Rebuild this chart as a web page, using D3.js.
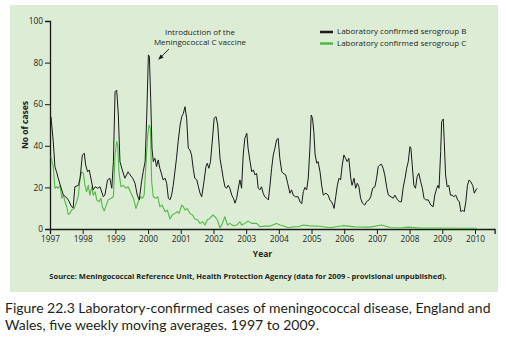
<!DOCTYPE html>
<html>
<head>
<meta charset="utf-8">
<script src="https://cdn.jsdelivr.net/npm/d3@7"></script>
<style>
  html, body { margin: 0; padding: 0; background: #ffffff; }
  svg { display: block; }
  text { font-family: "Open Sans", "Noto Sans", sans-serif; fill: #231f20; }
</style>
</head>
<body>
<svg id="chart" width="506" height="343"></svg>
<script>
// ---- Data ----
const yearTicks = [1997, 1998, 1999, 2000, 2001, 2002, 2003, 2004, 2005, 2006, 2007, 2008, 2009, 2010];
const caseTicks = [0, 20, 40, 60, 80, 100];
const seriesNames = ["Laboratory confirmed serogroup B", "Laboratory confirmed serogroup C"];

// [year, cases] – five weekly moving averages
const serogroupB = [
  [1997.03,54],[1997.10,42],[1997.15,30],[1997.20,27.5],[1997.25,24.5],[1997.34,19.7],[1997.41,16.3],[1997.48,15.5],
  [1997.56,14],[1997.66,10.7],[1997.71,10.2],[1997.76,20.3],[1997.87,21],[1997.92,24.4],[1997.99,35.6],[1998.05,36.4],
  [1998.09,30.8],[1998.15,27.5],[1998.20,28.4],[1998.25,24.4],[1998.32,18.8],[1998.38,20.3],[1998.46,19.6],[1998.53,20.3],
  [1998.63,15.5],[1998.68,16.3],[1998.76,23.6],[1998.83,24.4],[1998.89,19.6],[1998.94,32.4],[1998.99,66],[1999.04,66.8],
  [1999.09,54.8],[1999.14,32.4],[1999.21,28.4],[1999.29,24.4],[1999.39,27.5],[1999.45,26],[1999.53,24.4],[1999.60,22],
  [1999.67,16.3],[1999.73,14],[1999.80,22.7],[1999.85,27.5],[1999.91,32.4],[1999.96,54.8],[2000.01,83.7],[2000.04,82.8],
  [2000.08,62.8],[2000.12,38.8],[2000.16,32.4],[2000.21,34],[2000.26,30],[2000.31,33.2],[2000.36,29.2],[2000.42,26],
  [2000.46,23.6],[2000.52,24.4],[2000.57,22],[2000.62,14.8],[2000.67,14],[2000.72,16.3],[2000.77,21],[2000.82,27.5],
  [2000.87,34],[2000.92,42],[2000.98,50],[2001.03,54],[2001.08,55.6],[2001.13,58.8],[2001.18,53.2],[2001.23,38.8],
  [2001.28,38],[2001.33,35.6],[2001.38,29.2],[2001.43,24.4],[2001.49,23.6],[2001.54,20.3],[2001.59,17.2],[2001.64,15.5],
  [2001.71,22.7],[2001.77,30],[2001.81,31.6],[2001.86,29.2],[2001.91,32.4],[2001.98,45.2],[2002.02,53.2],[2002.08,54],
  [2002.13,50],[2002.18,38.8],[2002.20,34],[2002.25,29.2],[2002.30,24.4],[2002.35,20.3],[2002.40,19.6],[2002.45,21],
  [2002.50,19.6],[2002.56,16.3],[2002.61,14.8],[2002.66,12.4],[2002.71,14.8],[2002.76,19.6],[2002.81,23.6],[2002.86,19.6],
  [2002.91,35.6],[2002.96,43.6],[2003.02,46],[2003.06,38.8],[2003.12,32.4],[2003.17,27.5],[2003.22,28.4],[2003.27,26],
  [2003.32,26.8],[2003.37,19.6],[2003.42,18.8],[2003.47,20.3],[2003.52,17.2],[2003.57,15.5],[2003.63,14.8],[2003.68,14],
  [2003.73,21],[2003.78,29.2],[2003.83,35.6],[2003.88,38.8],[2003.93,42.8],[2003.98,43.6],[2004.03,34],[2004.09,27.5],
  [2004.13,26.8],[2004.21,26],[2004.27,22],[2004.34,17.2],[2004.39,18.8],[2004.44,16.3],[2004.51,15.5],[2004.59,15.5],
  [2004.65,13],[2004.70,12.2],[2004.75,18],[2004.80,20],[2004.85,18.8],[2004.90,24.4],[2004.95,38.8],[2004.99,54.8],
  [2005.03,53.2],[2005.07,46.8],[2005.11,35.6],[2005.16,31.6],[2005.20,32.4],[2005.26,27.5],[2005.31,21],[2005.36,16.3],
  [2005.44,17.2],[2005.51,16.3],[2005.56,14],[2005.61,13.1],[2005.66,11.5],[2005.69,9.9],[2005.74,15.5],[2005.79,21],
  [2005.84,24.4],[2005.89,23.6],[2005.94,30.8],[2005.99,35.6],[2006.04,34],[2006.09,32.4],[2006.14,34],[2006.20,24.4],
  [2006.24,21],[2006.30,24.4],[2006.35,19.6],[2006.40,22],[2006.45,20.3],[2006.50,14.8],[2006.56,12.4],[2006.63,11.5],
  [2006.68,13.1],[2006.76,14],[2006.81,15.5],[2006.87,19.6],[2006.94,20.3],[2006.99,24.4],[2007.04,30],[2007.09,30.8],
  [2007.14,31.1],[2007.19,29.2],[2007.24,26],[2007.30,20],[2007.35,16.3],[2007.43,15.5],[2007.50,14.8],[2007.55,16.3],
  [2007.63,14],[2007.70,13.1],[2007.75,13.1],[2007.80,19.6],[2007.86,24.4],[2007.91,29.2],[2007.96,32.4],[2008.01,39.6],
  [2008.04,38.8],[2008.08,30.8],[2008.13,21],[2008.18,19.6],[2008.23,25.1],[2008.28,26.8],[2008.34,22.7],[2008.39,19.6],
  [2008.44,14.8],[2008.49,14],[2008.57,14],[2008.65,11.5],[2008.72,10.7],[2008.77,16.3],[2008.83,19.6],[2008.87,21],
  [2008.90,19.6],[2008.95,37.2],[2008.98,51.6],[2009.03,52.9],[2009.06,42],[2009.10,26],[2009.15,20.3],[2009.20,21],
  [2009.25,16.3],[2009.30,16.3],[2009.35,15.5],[2009.41,16.3],[2009.47,14],[2009.52,13.1],[2009.57,8.3],[2009.62,9.1],
  [2009.67,8.3],[2009.72,13.1],[2009.77,21],[2009.82,23.6],[2009.87,22.7],[2009.93,21],[2009.98,17.2],[2010.03,18.8],
  [2010.07,19.6]
];

const serogroupC = [
  [1997.03,34.8],[1997.10,30],[1997.15,19.6],[1997.20,20.3],[1997.25,19.6],[1997.31,21],[1997.36,14.8],[1997.41,16.3],
  [1997.46,13.1],[1997.51,10.7],[1997.56,7],[1997.61,7.5],[1997.66,9.1],[1997.74,9.9],[1997.82,13.1],[1997.87,16.3],
  [1997.92,24.4],[1997.97,27.5],[1998.02,26.8],[1998.07,21],[1998.12,17.9],[1998.17,21],[1998.22,16.3],[1998.28,20.3],
  [1998.32,16.3],[1998.38,17.9],[1998.43,14],[1998.50,13.1],[1998.56,14.8],[1998.60,10.7],[1998.66,8.7],[1998.72,11.5],
  [1998.78,14],[1998.87,14.8],[1998.94,15.5],[1998.99,35.6],[1999.04,42],[1999.07,40.4],[1999.11,27.5],[1999.17,20.3],
  [1999.24,21],[1999.32,19.6],[1999.39,20.3],[1999.48,17.2],[1999.55,14.8],[1999.63,9.9],[1999.70,13.1],[1999.77,15.5],
  [1999.83,14.8],[1999.88,16.3],[1999.94,32.4],[1999.99,45.2],[2000.03,50],[2000.07,48.4],[2000.11,22.7],[2000.16,15.5],
  [2000.24,14.8],[2000.30,15.5],[2000.36,10.7],[2000.43,11.5],[2000.52,8.3],[2000.59,9.1],[2000.67,4.8],[2000.74,6.7],
  [2000.82,7.5],[2000.89,8.3],[2000.95,7.5],[2001.03,11.5],[2001.08,10.7],[2001.13,9.1],[2001.20,9.9],[2001.28,7.5],
  [2001.36,6.7],[2001.43,4.8],[2001.52,4.3],[2001.59,2.7],[2001.67,3.5],[2001.74,1.9],[2001.81,4.3],[2001.89,5.1],
  [2001.98,6.7],[2002.05,5.9],[2002.12,4.3],[2002.20,0.5],[2002.27,2.7],[2002.35,5.9],[2002.43,1.9],[2002.50,2.7],
  [2002.61,1.6],[2002.71,1.9],[2002.81,3.5],[2002.86,1.9],[2002.96,2.7],[2003.06,3.8],[2003.17,2.7],[2003.32,2.7],
  [2003.42,1.1],[2003.57,1.4],[2003.73,1.4],[2003.93,2.7],[2004.03,1.9],[2004.13,1.6],[2004.29,0.6],[2004.44,1.1],
  [2004.59,1.1],[2004.75,1.9],[2004.95,1.5],[2005.26,1.3],[2005.56,0.6],[2005.96,1.6],[2006.33,1.0],[2006.79,0.9],
  [2007.14,1.9],[2007.40,0.7],[2007.70,0.5],[2007.95,0.9],[2008.31,0.4],[2008.93,0.5],[2009.54,0.3],[2010.06,0.3]
];

// ---- Layout ----
const svg = d3.select("#chart");

svg.append("rect")
  .attr("x", 10).attr("y", 5).attr("width", 488).attr("height", 287)
  .attr("fill", "#dcecd5");

const x = d3.scaleLinear().domain([1997, 2010.6]).range([50, 494.6]);
const y = d3.scaleLinear().domain([0, 100]).range([229, 21]);

// Axes
const xAxis = d3.axisBottom(x).tickValues(yearTicks).tickFormat(d3.format("d")).tickSizeOuter(0).tickSize(5).tickPadding(2);
const gx = svg.append("g").attr("transform", `translate(0,${y(0)})`).call(xAxis);
gx.select(".domain").attr("stroke", "#1a1a1a").attr("stroke-width", 1.3);
gx.selectAll(".tick line").attr("stroke", "#1a1a1a").attr("stroke-width", 1);
gx.selectAll(".tick text").style("font-family", "'Open Sans', sans-serif").style("font-size", "8.3px").attr("fill", "#2b2440");

const yAxis = d3.axisLeft(y).tickValues(caseTicks).tickSizeOuter(0).tickSize(5).tickPadding(2);
const gy = svg.append("g").attr("transform", `translate(${x(1997)},0)`).call(yAxis);
gy.select(".domain").attr("stroke", "#1a1a1a").attr("stroke-width", 1.3);
gy.selectAll(".tick line").attr("stroke", "#1a1a1a").attr("stroke-width", 1);
gy.selectAll(".tick text").style("font-family", "'Open Sans', sans-serif").style("font-size", "8.3px").attr("fill", "#2b2440");

// Axis titles
svg.append("text")
  .attr("transform", `translate(26,${(y(0) + y(100)) / 2}) rotate(-90)`)
  .attr("text-anchor", "middle").attr("dominant-baseline", "middle")
  .style("font-size", "8.5px").style("font-weight", "bold")
  .text("No of cases");

svg.append("text")
  .attr("x", x(2003.5)).attr("y", 257)
  .attr("text-anchor", "middle")
  .style("font-size", "8.5px").style("font-weight", "bold")
  .text("Year");

// Lines
const line = d3.line().x(d => x(d[0])).y(d => y(d[1]));

svg.append("path").datum(serogroupC)
  .attr("d", line).attr("fill", "none")
  .attr("stroke", "#52b848").attr("stroke-width", 1.1).attr("stroke-linejoin", "round");

svg.append("path").datum(serogroupB)
  .attr("d", line).attr("fill", "none")
  .attr("stroke", "#1a1a1a").attr("stroke-width", 1).attr("stroke-linejoin", "round");

// Annotation
const ann = svg.append("text").attr("text-anchor", "middle").style("font-size", "8px").attr("fill", "#2b2440");
ann.append("tspan").attr("x", 200).attr("y", 35).text("Introduction of the");
ann.append("tspan").attr("x", 200).attr("y", 45).text("Meningococcal C vaccine");

svg.append("defs").append("marker")
  .attr("id", "arrow").attr("viewBox", "0 0 10 10").attr("refX", 8).attr("refY", 5)
  .attr("markerWidth", 6).attr("markerHeight", 6).attr("orient", "auto")
  .append("path").attr("d", "M0,1 L10,5 L0,9 Z").attr("fill", "#1a1a1a");

svg.append("line")
  .attr("x1", 169).attr("y1", 49).attr("x2", 159).attr("y2", 59)
  .attr("stroke", "#1a1a1a").attr("stroke-width", 0.9).attr("marker-end", "url(#arrow)");

// Legend
const legendColors = ["#1a1a1a", "#52b848"];
const lg = svg.append("g");
seriesNames.forEach((name, i) => {
  const ly = 32 + i * 11.5;
  lg.append("line").attr("x1", 320).attr("x2", 333).attr("y1", ly).attr("y2", ly)
    .attr("stroke", legendColors[i]).attr("stroke-width", 2.5);
  lg.append("text").attr("x", 337).attr("y", ly).attr("dominant-baseline", "middle")
    .style("font-size", "8px").attr("fill", "#2b2440").text(name);
});

// Source
svg.append("text")
  .attr("x", 248).attr("y", 279)
  .attr("text-anchor", "middle")
  .style("font-size", "7.5px").style("font-weight", "bold")
  .text("Source: Meningococcal Reference Unit, Health Protection Agency (data for 2009 - provisional unpublished).");

// Caption
svg.append("text").attr("x", 5).attr("y", 313)
  .style("font-family", "Lato, sans-serif").style("font-size", "14px").attr("fill", "#231f20")
  .text("Figure 22.3 Laboratory-confirmed cases of meningococcal disease, England and");
svg.append("text").attr("x", 5).attr("y", 330)
  .style("font-family", "Lato, sans-serif").style("font-size", "14px").attr("fill", "#231f20")
  .text("Wales, five weekly moving averages. 1997 to 2009.");
</script>
</body>
</html>
